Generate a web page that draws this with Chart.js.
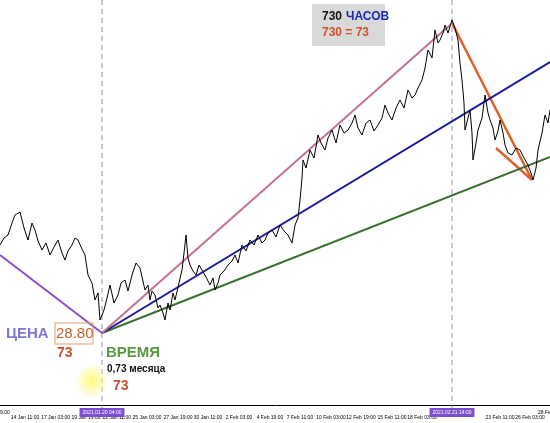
<!DOCTYPE html>
<html><head><meta charset="utf-8">
<script src="https://cdn.jsdelivr.net/npm/chart.js@4"></script>
<style>html,body{margin:0;padding:0;background:#fff}#w{width:550px;height:423px}</style>
</head><body><div id="w"><canvas id="c"></canvas></div>
<script>
const priceX=[0,4,8,12,15,20,24,28,32,35,38,42,46,50,54,58,62,65,68,72,75,78,82,85,88,92,95,98,100,104,107,110,114,118,121,125,128,132,136,140,145,148,150,152,155,158,160,163,165,168,170,173,175,179,182,184,186,188,190,193,196,199,202,206,210,213,215,218,220,224,228,232,235,238,242,246,250,254,258,262,265,268,272,276,280,284,288,292,295,298,300,302,303,306,310,314,318,321,325,328,332,336,340,344,348,352,355,358,362,366,370,374,378,382,385,388,392,396,400,404,408,412,415,418,422,425,428,432,435,438,440,443,445,448,452,455,458,460,462,464,465,468,470,472,473,476,478,482,485,488,490,493,495,498,500,503,505,508,512,516,520,524,528,531,533,536,538,542,545,548,550];
const priceY=[29.68,29.75,29.78,29.9,29.98,30.01,29.85,29.73,29.9,29.83,29.72,29.63,29.7,29.58,29.66,29.73,29.6,29.53,29.62,29.68,29.75,29.73,29.64,29.58,29.38,29.3,29.13,29.2,28.93,29.03,29.15,29.28,29.1,29.18,29.3,29.33,29.22,29.38,29.5,29.45,29.23,29.28,29.13,29.22,29.18,29.05,29.08,29.0,28.93,29.1,29.03,29.2,29.13,29.3,29.43,29.6,29.78,29.55,29.48,29.42,29.38,29.48,29.43,29.36,29.28,29.35,29.23,29.3,29.38,29.42,29.48,29.52,29.58,29.5,29.68,29.62,29.73,29.68,29.78,29.7,29.73,29.8,29.83,29.76,29.88,29.82,29.78,29.7,29.88,29.95,30.13,30.35,30.53,30.45,30.63,30.55,30.78,30.7,30.63,30.75,30.83,30.7,30.88,30.8,30.83,30.9,30.98,30.85,30.78,30.9,30.93,30.82,30.88,30.95,31.08,31.0,30.93,31.05,31.13,31.05,31.23,31.15,31.18,31.25,31.33,31.45,31.63,31.55,31.83,31.7,31.73,31.8,31.88,31.8,31.93,31.85,31.73,31.5,31.33,31.1,30.83,30.95,31.03,30.8,30.53,30.7,30.83,30.95,31.18,31.0,30.93,30.85,30.73,30.82,30.93,30.8,30.68,30.6,30.58,30.65,30.63,30.55,30.48,30.4,30.33,30.45,30.63,30.8,30.98,30.9,31.03];
const tickX=[25,55.6,86,116.8,147,178,208,239,270,300,331,361,392,422,500,530];
const tickLabels=['14 Jan 11:00','17 Jan 03:00','19 Jan 19:00','22 Jan 11:00','25 Jan 03:00','27 Jan 19:00','30 Jan 11:00','2 Feb 03:00','4 Feb 19:00','7 Feb 11:00','10 Feb 03:00','12 Feb 19:00','15 Feb 11:00','18 Feb 03:00','23 Feb 11:00','26 Feb 03:00'];
const markX=[102,452];
const markLabels=['2021.01.20 04:00','2021.02.21 14:00'];
const purpleLine=[{x:0,y:29.58},{x:102,y:28.80}];
const pinkLine=[{x:102,y:28.80},{x:450,y:31.88}];
const blueLine=[{x:102,y:28.80},{x:550,y:31.51}];
const greenLine=[{x:102,y:28.80},{x:550,y:30.56}];
const orangeLine1=[{x:452,y:31.90},{x:532,y:30.33}];
const orangeLine2=[{x:496,y:30.65},{x:532,y:30.33}];

const ln=(d,c,w)=>({data:d,borderColor:c,borderWidth:w,pointRadius:0,fill:false,tension:0});
const over={id:'over',
 beforeDatasetsDraw(ch){const g=ch.ctx,a=ch.chartArea,xs=ch.scales.x;
  g.save();g.strokeStyle='#9a90c0';g.setLineDash([5,4]);g.lineWidth=1;
  markX.forEach(v=>{const p=xs.getPixelForValue(v);g.beginPath();g.moveTo(p,0);g.lineTo(p,a.bottom+6);g.stroke();});
  g.restore();},
 afterDraw(ch){const g=ch.ctx,a=ch.chartArea,xs=ch.scales.x;g.save();
  g.font='5px "Liberation Sans"';g.textBaseline='middle';g.textAlign='center';
  markX.forEach((v,i)=>{const p=xs.getPixelForValue(v);const w=g.measureText(markLabels[i]).width+6;
   g.fillStyle='#7b4fd0';g.fillRect(p-w/2,a.bottom+3,w,9);g.fillStyle='#fff';g.fillText(markLabels[i],p,a.bottom+8);});
  g.fillStyle='#000';g.textAlign='left';g.fillText('9:00',0,a.bottom+8);g.fillText('28 Feb',538,a.bottom+8);
  g.fillStyle='#d9d9d9';g.fillRect(312,4,73,42);
  g.textAlign='left';g.font='bold 12px "Liberation Sans"';g.fillStyle='#111';g.fillText('730',322,17);
  g.fillStyle='#1a2bb0';g.fillText('ЧАСОВ',346,17);
  g.fillStyle='#d05028';g.fillText('730 = 73',322,33);
  g.font='bold 15px "Liberation Sans"';g.fillStyle='#7b78d8';g.fillText('ЦЕНА',6,334);
  g.strokeStyle='#e0a070';g.lineWidth=1;g.strokeRect(55,323,38,21);
  g.font='15px "Liberation Sans"';g.fillStyle='#c86030';g.fillText('28.80',56,334);
  g.font='bold 14px "Liberation Sans"';g.fillStyle='#c85030';g.fillText('73',57,353);
  g.font='bold 15px "Liberation Sans"';g.fillStyle='#5a9a40';g.fillText('ВРЕМЯ',106,353);
  g.font='bold 10px "Liberation Sans"';g.fillStyle='#111';g.fillText('0,73 месяца',107,369);
  const gr=g.createRadialGradient(92,381,2,92,381,16);gr.addColorStop(0,'rgba(255,250,120,0.9)');gr.addColorStop(1,'rgba(255,250,160,0.2)');
  g.fillStyle=gr;g.beginPath();g.arc(92,381,16,0,Math.PI*2);g.fill();
  g.font='bold 14px "Liberation Sans"';g.fillStyle='#c85030';g.fillText('73',113,386);
  g.restore();}
};
new Chart(document.getElementById('c'),{type:'line',
 data:{datasets:[
  ln(priceX.map((x,i)=>({x,y:priceY[i]})),'#000',1),
  ln(purpleLine,'#8a4fd0',2),ln(pinkLine,'#c87090',2),ln(blueLine,'#1a1aa0',2),ln(greenLine,'#3a7030',2),
  ln(orangeLine1,'#e0602a',2.5),ln(orangeLine2,'#e0602a',2.5)]},
 options:{responsive:true,maintainAspectRatio:false,animation:false,
  layout:{padding:0},
  plugins:{legend:{display:false},tooltip:{enabled:false}},
  scales:{
   x:{type:'linear',min:0,max:550,grid:{display:false},border:{color:'#000',width:1},
    afterBuildTicks(s){s.ticks=tickX.map(v=>({value:v}));},
    ticks:{autoSkip:false,maxRotation:0,padding:2,font:{size:5,family:'Liberation Sans'},color:'#000',
     callback:(v)=>{const i=tickX.indexOf(v);return i>=0?tickLabels[i]:'';}}},
   y:{display:false,min:28.08,max:32.13}}},
 plugins:[over]});
</script></body></html>
